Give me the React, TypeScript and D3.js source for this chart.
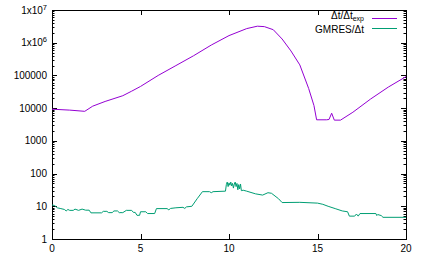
import React, { useEffect, useRef } from 'react';
import * as d3 from 'd3';

// Δt/Δt_exp curve
const ratioX = [0, 1, 1.85, 2.3, 3, 4, 4.5, 5, 6, 7, 8, 9, 10, 11, 11.6, 12, 12.5, 13, 13.5, 14, 14.5, 14.8, 14.95, 15.5, 15.65, 15.8, 15.95, 16.3, 17, 18, 19, 20];
const ratioY = [9300, 8700, 8000, 11500, 16000, 24000, 33000, 46000, 100000, 200000, 400000, 850000, 1650000, 2700000, 3200000, 3100000, 2500000, 1300000, 560000, 210000, 40000, 12000, 4400, 4400, 4500, 7000, 4300, 4300, 7500, 19000, 44000, 92000];

// GMRES/Δt curve
const gmresX = [0, 0.15, 0.3, 0.5, 0.7, 0.8, 0.9, 1.0, 1.2, 1.3, 1.5, 1.7, 1.9, 2.1, 2.2, 2.8, 2.9, 3.1, 3.2, 3.4, 3.5, 3.7, 3.8, 4.0, 4.2, 4.5, 4.6, 4.7, 4.8, 4.95, 5.0, 5.3, 5.4, 5.8, 5.9, 6.5, 6.6, 6.7, 7.0, 7.4, 7.5, 7.6, 7.9, 8.2, 8.5, 8.9, 9.0, 9.1, 9.8, 9.85, 9.9, 9.95, 10.0, 10.05, 10.1, 10.15, 10.2, 10.25, 10.3, 10.35, 10.4, 10.45, 10.5, 10.55, 10.6, 10.65, 10.7, 10.8, 11.0, 11.5, 11.9, 12.2, 12.4, 12.8, 13.0, 14.0, 15.0, 15.3, 15.6, 16.0, 16.4, 16.7, 16.8, 17.1, 17.2, 17.3, 17.4, 18.3, 18.35, 18.4, 18.6, 18.7, 20];
const gmresY = [11, 10.5, 9, 8.5, 8, 7.2, 8, 7.5, 7.5, 8.2, 7.5, 8.2, 7.6, 7.6, 6.3, 6.3, 7, 7, 6.4, 6.4, 7.2, 7.2, 6.4, 6.4, 7.5, 7.5, 6.5, 6.5, 5.3, 5.3, 6.8, 6.8, 6.0, 6.0, 8.5, 8.5, 7.8, 8.6, 9, 9.3, 8.6, 9.6, 10, 17, 28, 28, 26, 28, 29, 46, 55, 40, 52, 44, 55, 42, 50, 36, 48, 55, 40, 50, 32, 46, 34, 48, 30, 31, 29, 24, 22, 26, 25, 17, 13, 13.2, 12.5, 11.5, 10, 8.5, 7.2, 6.8, 5, 5, 5.8, 5, 6, 6, 5.2, 5.6, 5.2, 4.6, 4.6];

const xTicks = [0, 5, 10, 15, 20];
const yTicks = [1, 10, 100, 1000, 10000, 100000, 1e6, 1e7];
const yTickLabels = ['1', '10', '100', '1000', '10000', '100000', '1x10^6', '1x10^7'];

const legendLabels = ['Δt/Δt', 'GMRES/Δt'];
const colors = ['#9400d3', '#009e73'];

export default function App() {
    const chart = useRef(null);

    useEffect(() => {
        const svg = d3.select(chart.current);
        svg.selectAll('*').remove();

        const left = 52, right = 406, top = 10, bottom = 239;
        const x = d3.scaleLinear().domain([0, 20]).range([left, right]);
        const y = d3.scaleLog().domain([1, 1e7]).range([bottom, top]);

        const font = 'Liberation Sans, Arial, sans-serif';

        // ticks on all four sides, pointing inward
        const tickG = svg.append('g').attr('stroke', '#000').attr('stroke-width', 1);
        xTicks.forEach(t => {
            const px = Math.round(x(t)) + 0.5;
            tickG.append('line').attr('x1', px).attr('x2', px).attr('y1', bottom).attr('y2', bottom - 5);
            tickG.append('line').attr('x1', px).attr('x2', px).attr('y1', top).attr('y2', top + 5);
        });
        for (let e = 0; e < 7; e++) {
            for (let m = 1; m <= 9; m++) {
                const v = m * Math.pow(10, e);
                const py = Math.round(y(v)) + 0.5;
                const len = m === 1 ? 5 : 2.5;
                tickG.append('line').attr('x1', left).attr('x2', left + len).attr('y1', py).attr('y2', py);
                tickG.append('line').attr('x1', right).attr('x2', right - len).attr('y1', py).attr('y2', py);
            }
        }

        // frame
        svg.append('rect')
            .attr('x', left + 0.5).attr('y', top + 0.5)
            .attr('width', right - left).attr('height', bottom - top)
            .attr('fill', 'none').attr('stroke', '#000').attr('stroke-width', 1);

        // x labels
        svg.append('g').selectAll('text')
            .data(xTicks)
            .join('text')
                .attr('x', d => x(d))
                .attr('y', bottom + 13)
                .attr('text-anchor', 'middle')
                .attr('font-family', font)
                .attr('font-size', 10)
                .text(d => d);

        // y labels
        const yl = svg.append('g');
        yTicks.forEach((t, i) => {
            const lab = yTickLabels[i];
            const txt = yl.append('text')
                .attr('x', left - 5)
                .attr('y', y(t) + 3.5)
                .attr('text-anchor', 'end')
                .attr('font-family', font)
                .attr('font-size', 10);
            if (lab.includes('^')) {
                const [base, exp] = lab.split('^');
                txt.append('tspan').text(base);
                txt.append('tspan').attr('dy', -4).attr('font-size', 7.5).text(exp);
            } else {
                txt.text(lab);
            }
        });

        const line = d3.line().x(d => x(d[0])).y(d => y(d[1]));

        svg.append('path')
            .datum(ratioX.map((v, i) => [v, ratioY[i]]))
            .attr('d', line)
            .attr('fill', 'none')
            .attr('stroke', colors[0])
            .attr('stroke-width', 1);

        svg.append('path')
            .datum(gmresX.map((v, i) => [v, gmresY[i]]))
            .attr('d', line)
            .attr('fill', 'none')
            .attr('stroke', colors[1])
            .attr('stroke-width', 1);

        // legend
        const lg = svg.append('g').attr('font-family', font).attr('font-size', 10);
        const t1 = lg.append('text').attr('x', 364).attr('y', 19).attr('text-anchor', 'end');
        t1.append('tspan').text(legendLabels[0]);
        t1.append('tspan').attr('dy', 2).attr('font-size', 7).text('exp');
        lg.append('text').attr('x', 364).attr('y', 32.5).attr('text-anchor', 'end').text(legendLabels[1]);
        lg.append('line').attr('x1', 372).attr('x2', 397).attr('y1', 18.5).attr('y2', 18.5)
            .attr('stroke', colors[0]).attr('stroke-width', 1);
        lg.append('line').attr('x1', 372).attr('x2', 397).attr('y1', 28.5).attr('y2', 28.5)
            .attr('stroke', colors[1]).attr('stroke-width', 1);
    });

    return (
        <div>
            <svg ref={chart} width={429} height={258}
                style={{ position: 'absolute', left: 0, top: 0, background: '#fff' }}></svg>
        </div>
    );
}
